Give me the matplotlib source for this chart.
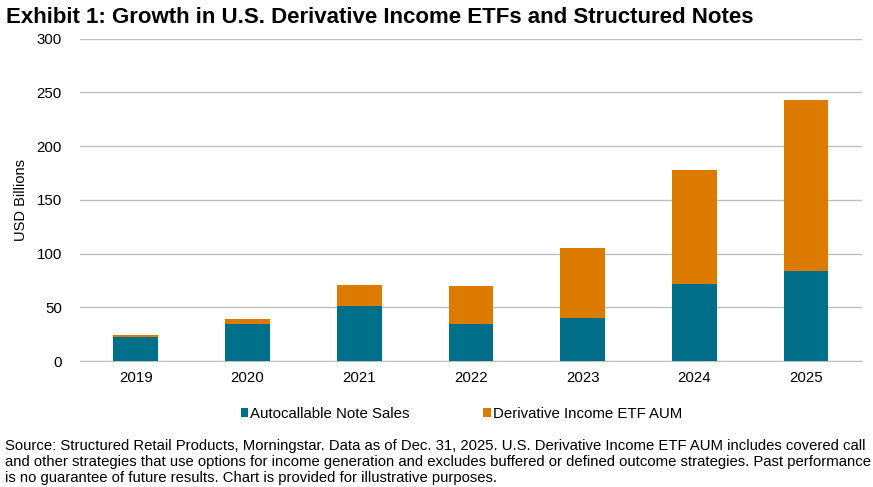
import matplotlib
matplotlib.use("Agg")
import matplotlib.pyplot as plt
import numpy as np

# values (USD billions)
years = ["2019", "2020", "2021", "2022", "2023", "2024", "2025"]
autocallable = [22.3, 34.4, 51.2, 34.4, 40.0, 71.6, 83.7]
etf_aum = [1.9, 4.7, 19.5, 35.4, 65.1, 106.1, 159.1]
yticks = [0, 50, 100, 150, 200, 250, 300]

teal = "#006F89"
orange = "#DD7B00"
grid_c = "#BFBFBF"

plt.rcParams["font.family"] = ["Liberation Sans", "DejaVu Sans"]

fig = plt.figure(figsize=(8.73, 4.87), dpi=100)
ax = fig.add_axes([0.0916, 0.2587, 0.8958, 0.662])

x = np.arange(len(years))
ax.bar(x, autocallable, width=0.4, color=teal, label="Autocallable Note Sales", zorder=3)
ax.bar(x, etf_aum, width=0.4, bottom=autocallable, color=orange,
       label="Derivative Income ETF AUM", zorder=3)

ax.set_xlim(-0.5, len(years) - 0.5)
ax.set_ylim(0, 300)
ax.set_yticks(yticks)
ax.set_xticks(x)
ax.set_xticklabels(years)
ax.tick_params(axis="both", length=0, labelsize=10.8, colors="black")
ax.tick_params(axis="y", pad=13)
ax.tick_params(axis="x", pad=7)
ax.grid(axis="y", color=grid_c, linewidth=1, zorder=0)
for s in ["left", "right", "top"]:
    ax.spines[s].set_visible(False)
ax.spines["bottom"].set_color(grid_c)
ax.set_ylabel("USD Billions", fontsize=10.5, labelpad=6)

ax.legend(loc="upper center", bbox_to_anchor=(0.488, -0.1), ncol=2, frameon=False,
          fontsize=10.8, handlelength=0.5, handleheight=0.5, handletextpad=0.15,
          columnspacing=4.9)

fig.text(0.007, 0.964, "Exhibit 1: Growth in U.S. Derivative Income ETFs and Structured Notes",
         fontsize=16, fontweight="bold", va="center", ha="left")

note = ("Source: Structured Retail Products, Morningstar. Data as of Dec. 31, 2025. U.S. Derivative Income ETF AUM includes covered call\n"
        "and other strategies that use options for income generation and excludes buffered or defined outcome strategies. Past performance\n"
        "is no guarantee of future results. Chart is provided for illustrative purposes.")
fig.text(0.006, 0.004, note, fontsize=10.7, va="bottom", ha="left", linespacing=1.17)

fig.savefig("out.png", dpi=100)
